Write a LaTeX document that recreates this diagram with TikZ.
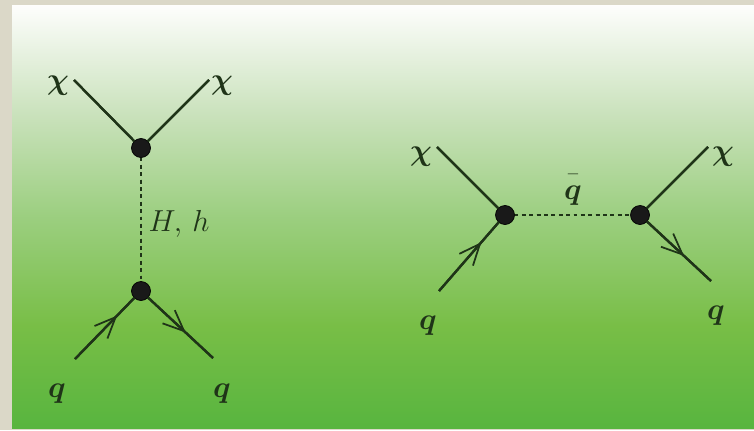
\documentclass[tikz,border=0pt]{standalone}
\usepackage{mathtools}
\usepackage{tikz}
\usepackage[compat=1.1.0]{tikz-feynman}
\usepackage{amsmath, amssymb, amsthm}
\usepackage{bm}
\usetikzlibrary{positioning, arrows.meta, decorations.markings}

\definecolor{frameline}{HTML}{DBD8C8}
\definecolor{inkgreen}{HTML}{1F3418}
\definecolor{panelA}{rgb}{0.345,0.710,0.247}
\definecolor{panelB}{rgb}{0.470,0.745,0.275}
\definecolor{panelC}{rgb}{0.610,0.810,0.500}
\definecolor{panelD}{rgb}{0.790,0.885,0.735}
\definecolor{panelE}{rgb}{0.995,0.995,0.990}
\pgfdeclareverticalshading{panelgreen}{100bp}{
  color(0bp)=(panelA);
  color(25bp)=(panelA);
  color(37bp)=(panelB);
  color(50bp)=(panelC);
  color(62bp)=(panelD);
  color(75bp)=(panelE);
  color(100bp)=(panelE)}
\tikzset{
  vtx/.style={on grid, dot, minimum size=0.38cm, fill=black!90},
  endpt/.style={on grid},
  solidline/.style={plain, draw=inkgreen, line width=1.3pt},
  qline/.style={solidline, postaction={decorate}, decoration={markings,
      mark=at position #1 with {\arrow[inkgreen, line width=1pt]{Straight Barb[length=0.42cm, width=0.36cm]}}}},
  dotline/.style={plain, draw=inkgreen, line width=1pt, dash pattern=on 2.2pt off 2pt},
  lbl/.style={on grid, text=inkgreen, font=\fontsize{18}{20}\selectfont}
}

\begin{document}
\begin{tikzpicture}
  \useasboundingbox (0,0) rectangle (15.08,-8.6);
  \fill[frameline] (0,0) rectangle (15.08,-8.6);
  \shade[shading=panelgreen] (0.24,-0.1) rectangle (15.08,-8.56);
  \begin{feynman}
    % left diagram
    \vertex [vtx] (v1) at (2.82,-2.96) {};
    \vertex [vtx, below=2.86cm of v1] (v2) {};
    \vertex [endpt, above left=1.36cm and 1.34cm of v1] (x1);
    \vertex [endpt, above right=1.36cm and 1.36cm of v1] (x2);
    \vertex [endpt, below left=1.36cm and 1.32cm of v2] (q1);
    \vertex [endpt, below right=1.34cm and 1.44cm of v2] (q2);
    \node [lbl, above left=1.24cm and 1.66cm of v1] (x1l) {$\bm{\chi}$};
    \node [lbl, above right=1.24cm and 1.62cm of v1] (x2l) {$\bm{\chi}$};
    \node [lbl, below left=2.05cm and 1.68cm of v2] (q1l) {$\bm{q}$};
    \node [lbl, below right=2.05cm and 1.62cm of v2] (q2l) {$\bm{q}$};
    \node [lbl, below right=1.52cm and 0.76cm of v1] (hl) {$H,\,h$};
    % right diagram
    \vertex [vtx] (v3) at (10.10,-4.30) {};
    \vertex [vtx, right=2.70cm of v3] (v4) {};
    \vertex [endpt, above left=1.36cm and 1.36cm of v3] (x3);
    \vertex [endpt, above right=1.36cm and 1.36cm of v4] (x4);
    \vertex [endpt, below left=1.52cm and 1.32cm of v3] (q3);
    \vertex [endpt, below right=1.32cm and 1.42cm of v4] (q4);
    \node [lbl, above left=1.16cm and 1.68cm of v3] (x3l) {$\bm{\chi}$};
    \node [lbl, above right=1.16cm and 1.66cm of v4] (x4l) {$\bm{\chi}$};
    \node [lbl, below left=2.21cm and 1.54cm of v3] (q3l) {$\bm{q}$};
    \node [lbl, below right=2.01cm and 1.52cm of v4] (q4l) {$\bm{q}$};
    \node [lbl, above right=0.50cm and 1.36cm of v3] (qbl) {$\bar{\vphantom{l}\bm{q}}$};
    \diagram*{
      (x1) -- [solidline] (v1) -- [solidline] (x2),
      (v1) -- [dotline] (v2),
      (q1) -- [qline=0.71] (v2) -- [qline=0.58] (q2),
      (x3) -- [solidline] (v3) -- [dotline] (v4) -- [solidline] (x4),
      (q3) -- [qline=0.71] (v3),
      (v4) -- [qline=0.58] (q4)
    };
  \end{feynman}
\end{tikzpicture}
\end{document}
